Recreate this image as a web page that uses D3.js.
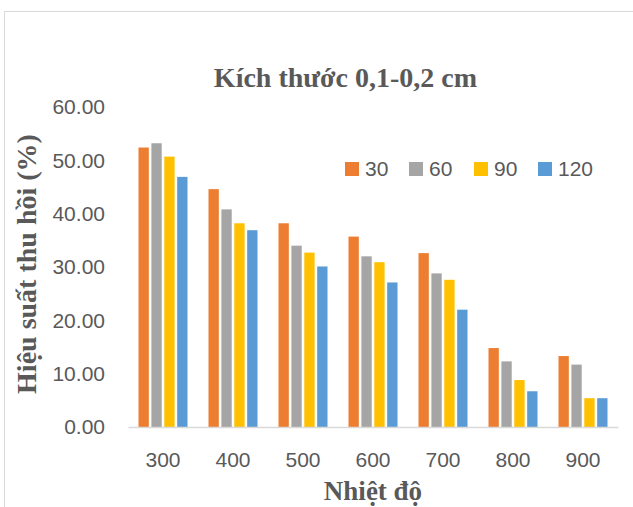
<!DOCTYPE html>
<html>
<head>
<meta charset="utf-8">
<script src="https://cdn.jsdelivr.net/npm/d3@7"></script>
<style>
  body { margin: 0; background: #fff; }
  svg { display: block; }
</style>
</head>
<body>
<svg id="chart" width="633" height="507"></svg>
<script>
// data
var temps = ["300", "400", "500", "600", "700", "800", "900"];
var seriesNames = ["30", "60", "90", "120"];
var s30 = [52.4, 44.6, 38.2, 35.7, 32.6, 14.8, 13.3];
var s60 = [53.2, 40.8, 34.0, 32.0, 28.8, 12.3, 11.7];
var s90 = [50.7, 38.2, 32.7, 30.9, 27.6, 8.8, 5.4];
var s120 = [46.9, 36.9, 30.1, 27.1, 22.0, 6.7, 5.4];
var yTicks = [0, 10, 20, 30, 40, 50, 60];
var colors = ["#ED7D31", "#A5A5A5", "#FFC000", "#5B9BD5"];

var allSeries = [s30, s60, s90, s120];

var svg = d3.select("#chart");

// chart frame (cropped at right/bottom like the reference)
svg.append("rect")
  .attr("x", 4.5).attr("y", 11.5)
  .attr("width", 700).attr("height", 600)
  .attr("fill", "none")
  .attr("stroke", "#d9d9d9");

var plotLeft = 128, plotRight = 618, plotTop = 107, plotBottom = 427;

var xScale = d3.scaleBand()
  .domain(temps)
  .range([plotLeft, plotRight])
  .paddingInner(0.3)
  .paddingOuter(0.15);

var xSub = d3.scaleBand()
  .domain(seriesNames)
  .range([0, xScale.bandwidth()])
  .paddingInner(0.2);

var yScale = d3.scaleLinear()
  .domain([0, 60])
  .range([plotBottom, plotTop]);

// bars
var groups = svg.append("g").selectAll("g")
  .data(temps)
  .enter().append("g")
  .attr("transform", function (d) { return "translate(" + xScale(d) + ",0)"; });

groups.selectAll("rect")
  .data(function (d, i) {
    return seriesNames.map(function (s, j) {
      return { name: s, value: allSeries[j][i], color: colors[j] };
    });
  })
  .enter().append("rect")
  .attr("x", function (d) { return xSub(d.name); })
  .attr("y", function (d) { return yScale(d.value); })
  .attr("width", xSub.bandwidth())
  .attr("height", function (d) { return plotBottom - yScale(d.value); })
  .attr("fill", function (d) { return d.color; });

// x axis
var xAxis = d3.axisBottom(xScale).tickSize(0).tickPadding(25);
var gx = svg.append("g")
  .attr("transform", "translate(0," + plotBottom + ")")
  .call(xAxis);
gx.select(".domain").attr("stroke", "#d9d9d9").attr("stroke-width", 1.5);
gx.selectAll("text")
  .attr("fill", "#595959")
  .style("font-family", "Liberation Sans, Arial, sans-serif")
  .style("font-size", "21px");

// y axis
var yAxis = d3.axisLeft(yScale)
  .tickValues(yTicks)
  .tickSize(0)
  .tickPadding(23)
  .tickFormat(d3.format(".2f"));
var gy = svg.append("g")
  .attr("transform", "translate(" + plotLeft + ",0)")
  .call(yAxis);
gy.select(".domain").remove();
gy.selectAll("text")
  .attr("fill", "#595959")
  .style("font-family", "Liberation Sans, Arial, sans-serif")
  .style("font-size", "21px");

// title
svg.append("text")
  .attr("x", 345.5).attr("y", 87)
  .attr("text-anchor", "middle")
  .attr("fill", "#595959")
  .style("font-family", "Liberation Serif, Times New Roman, serif")
  .style("font-weight", "bold")
  .style("font-size", "28px")
  .text("Kích thước 0,1-0,2 cm");

// axis titles
svg.append("text")
  .attr("x", 373).attr("y", 500)
  .attr("text-anchor", "middle")
  .attr("fill", "#595959")
  .style("font-family", "Liberation Serif, Times New Roman, serif")
  .style("font-weight", "bold")
  .style("font-size", "27px")
  .text("Nhiệt độ");

svg.append("text")
  .attr("transform", "translate(36,264) rotate(-90)")
  .attr("text-anchor", "middle")
  .attr("fill", "#595959")
  .style("font-family", "Liberation Serif, Times New Roman, serif")
  .style("font-weight", "bold")
  .style("font-size", "28px")
  .text("Hiệu suất thu hồi (%)");

// legend
var legendX = [345, 409, 474, 538];
var legend = svg.append("g").selectAll("g")
  .data(seriesNames)
  .enter().append("g")
  .attr("transform", function (d, i) { return "translate(" + legendX[i] + ",162)"; });
legend.append("rect")
  .attr("width", 14).attr("height", 14)
  .attr("fill", function (d, i) { return colors[i]; });
legend.append("text")
  .attr("x", 20).attr("y", 13.5)
  .attr("fill", "#595959")
  .style("font-family", "Liberation Sans, Arial, sans-serif")
  .style("font-size", "21px")
  .text(function (d) { return d; });
</script>
</body>
</html>
